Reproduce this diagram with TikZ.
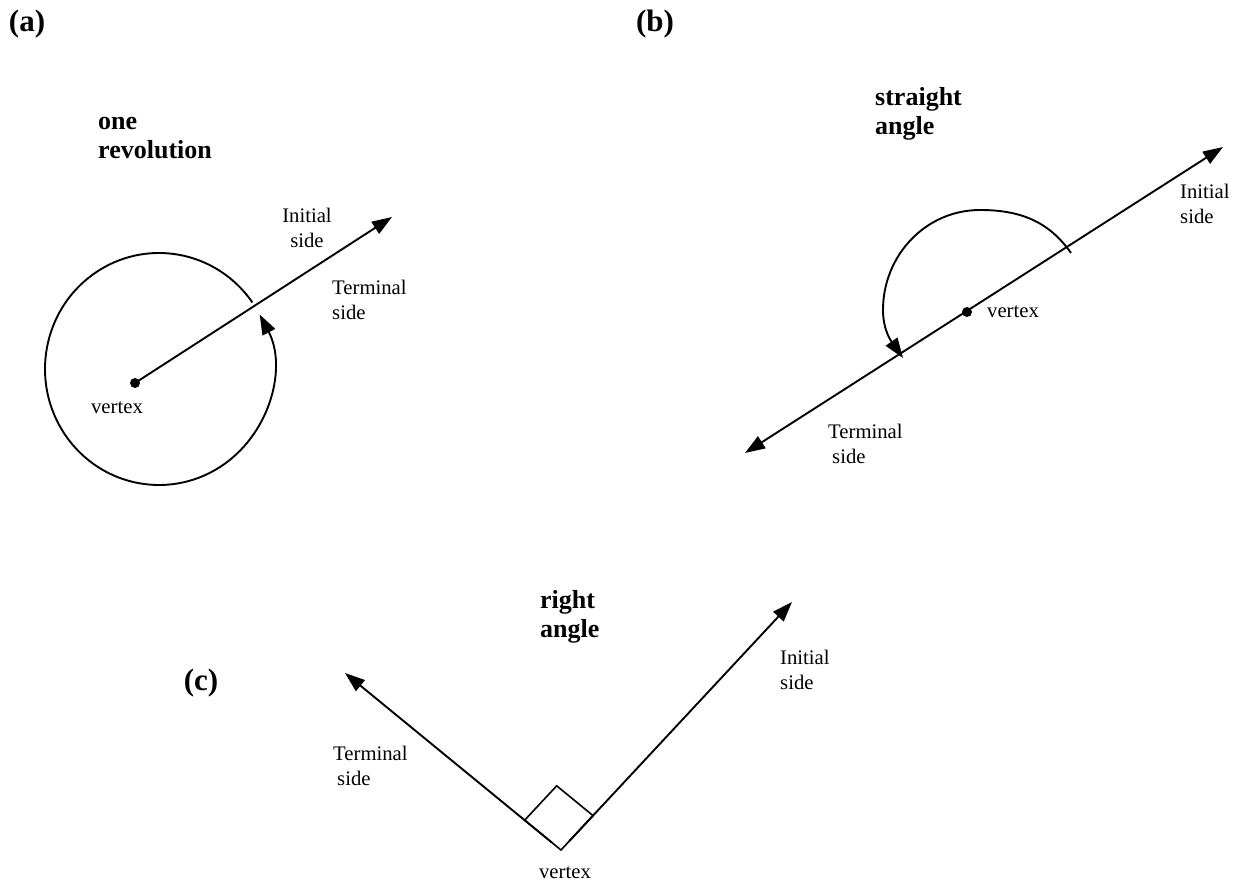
\documentclass[tikz,border=0pt]{standalone}
\usepackage{fontspec}
\setmainfont{Liberation Serif}
\usetikzlibrary{arrows.meta, calc}

\begin{document}
\begin{tikzpicture}[x=1pt, y=1pt,
            txt/.style={font=\fontsize{20.7}{25}\selectfont, inner sep=0pt, align=left},
            ttl/.style={font=\fontsize{26}{29}\selectfont\bfseries, inner sep=0pt, align=left},
            pan/.style={font=\fontsize{31}{36}\selectfont\bfseries, inner sep=0pt},
            dotv/.style={circle, fill=black, inner sep=0pt, minimum size=10pt},
            ln/.style={draw=black, line width=1.9pt},
            tip/.style={ln, -{Triangle[length=20pt,width=14pt]}},
            tips/.style={ln, {Triangle[length=20pt,width=14pt]}-{Triangle[length=20pt,width=14pt]}}]
            \useasboundingbox (0,0) rectangle (1243,-882);
            % (a) one revolution
            \node[pan] (pa) at (27,-24) {(a)};
            \node[ttl, anchor=west] (ta) at (98,-138) {one\\revolution};
            \node[dotv] (va) at (135,-383) {};
            \coordinate (ea) at (392,-217);
            \coordinate (ca) at (159,-369);
            \draw[tip] (va.center) -- (ea);
            \draw[tip] ($(ca)+(35:114 and 116)$) arc[start angle=35, end angle=388, x radius=114, y radius=116];
            \node[txt, align=center] (ia) at (307,-228) {Initial\\side};
            \node[txt, anchor=west] (ka) at (332,-300) {Terminal\\side};
            \node[txt] (xa) at (117,-408) {vertex};
            % (b) straight angle
            \node[pan] (pb) at (655,-24) {(b)};
            \node[ttl, anchor=west] (tb) at (875,-114) {straight\\angle};
            \coordinate (sb) at (745,-453);
            \coordinate (eb) at (1223,-147);
            \draw[tips] (sb) -- (eb);
            \node[dotv] (vb) at (967,-312) {};
            \coordinate (ab) at (1071,-253);
            \coordinate (hb) at (980,-210);
            \coordinate (gb) at (883,-310);
            \coordinate (zb) at (903,-358);
            \draw[tip] (ab) to[out=125,in=0] (hb) to[out=180,in=90] (gb) to[out=-90,in=125] (zb);
            \node[txt, anchor=west] (ib) at (1180,-204) {Initial\\side};
            \node[txt, anchor=west] (xb) at (987,-312) {vertex};
            \node[txt, anchor=west] (kb) at (828,-444) {Terminal\\\hspace*{4pt}side};
            % (c) right angle
            \node[pan] (pc) at (201,-683) {(c)};
            \node[ttl, anchor=west] (tc) at (540,-617) {right\\angle};
            \coordinate (vc) at (561,-850);
            \coordinate (lc) at (345,-673);
            \coordinate (rc) at (792,-602);
            \draw[tip, shorten <=12pt] (vc) -- (lc);
            \draw[tip, shorten <=12pt] (vc) -- (rc);
            \coordinate (qa) at ($(vc)!47pt!(lc)$);
            \coordinate (qb) at ($(vc)!47pt!(rc)$);
            \draw[ln, line width=1.6pt] (vc) -- (qa) -- ($(qa)+(qb)-(vc)$) -- (qb) -- cycle;
            \node[txt, anchor=west] (ic) at (780,-670) {Initial\\side};
            \node[txt, anchor=west] (kc) at (333,-766) {Terminal\\\hspace*{4pt}side};
            \node[txt] (xc) at (565,-873) {vertex};
        \end{tikzpicture}
\end{document}
